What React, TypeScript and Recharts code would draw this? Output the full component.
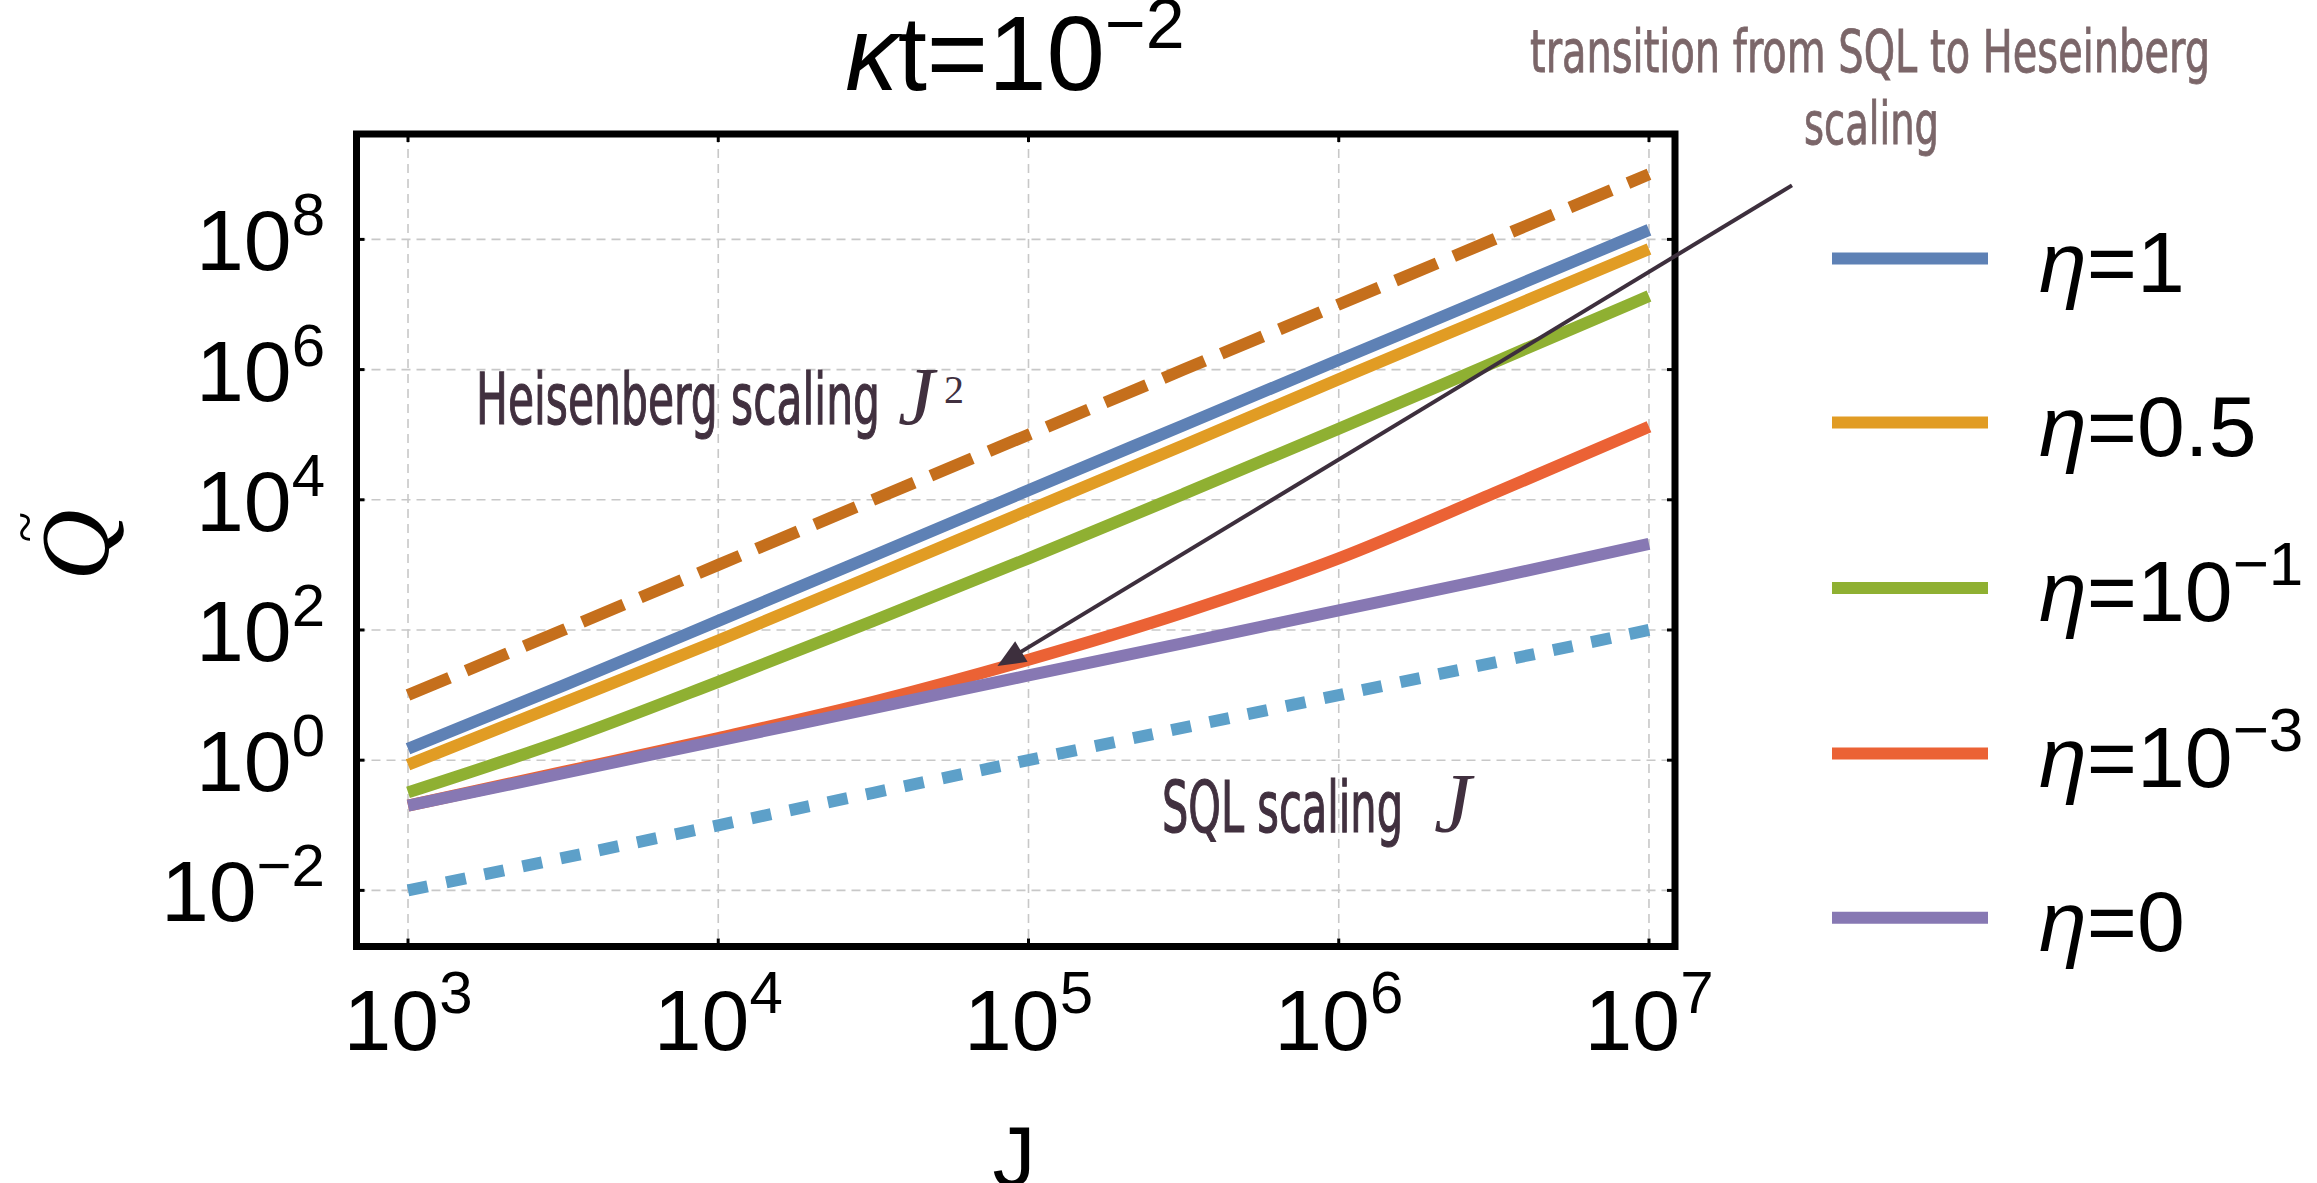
import React from "react";
import {
  CartesianGrid,
  Line,
  LineChart,
  ReferenceArea,
  ReferenceLine,
  XAxis,
  YAxis,
} from "recharts";

// J values (half decades)
const J_VALUES = [1000, 3162, 10000, 31623, 100000, 316228, 1000000, 3162278, 10000000];
const HEISENBERG = [10, 100, 1e3, 1e4, 1e5, 1e6, 1e7, 1e8, 1e9];
const SQL = [0.01, 0.0316, 0.1, 0.316, 1, 3.16, 10, 31.6, 100];
const ETA_1 = [1.5, 14, 138, 1380, 1.4e4, 1.4e5, 1.4e6, 1.4e7, 1.4e8];
const ETA_05 = [0.85, 7.6, 69, 680, 6.9e3, 6.9e4, 7.1e5, 7.1e6, 7.1e7];
const ETA_01 = [0.32, 2.0, 16, 138, 1260, 1.23e4, 1.23e5, 1.29e6, 1.35e7];
const ETA_1E3 = [0.2, 0.66, 2.19, 7.9, 35, 186, 1260, 1.26e4, 1.32e5];
const ETA_0 = [0.2, 0.63, 2, 6.3, 20, 63, 200, 630, 2100];

const X_TICKS = [1e3, 1e4, 1e5, 1e6, 1e7];
const Y_TICKS = [1e-2, 1, 1e2, 1e4, 1e6, 1e8];
const X_DOMAIN = [682.3, 1.213e7];
const Y_DOMAIN = [0.001374, 4.159e9];

// arrow "transition from SQL to Heseinberg scaling"
const ARROW = [
  { x: 2.89e7, y: 6.76e8 },
  { x: 7.94e4, y: 27.9 },
];

const SERIES = [
  { key: "eta1", values: ETA_1, color: "#5e81b5", label: "1", sup: "" },
  { key: "eta05", values: ETA_05, color: "#e19c24", label: "0.5", sup: "" },
  { key: "eta01", values: ETA_01, color: "#8fb032", label: "10", sup: "\u22121" },
  { key: "eta1e3", values: ETA_1E3, color: "#eb6235", label: "10", sup: "\u22123" },
  { key: "eta0", values: ETA_0, color: "#8778b3", label: "0", sup: "" },
];

const data = J_VALUES.map((J, i) => {
  const row: Record<string, number> = { J, heis: HEISENBERG[i], sql: SQL[i] };
  SERIES.forEach((s) => (row[s.key] = s.values[i]));
  return row;
});

const W = 2317;
const H = 1183;
const PLOT = { left: 356.5, top: 134, right: 1675, bottom: 946.5 };
const SANS = "'Liberation Sans', Arial, Helvetica, sans-serif";
const SERIF = "'Liberation Serif', 'Times New Roman', serif";
const COND = "'DejaVu Sans Condensed', 'Liberation Sans Narrow', 'DejaVu Sans', sans-serif";

const expText = (v: number) => {
  const e = Math.round(Math.log10(v));
  return e < 0 ? `\u2212${-e}` : `${e}`;
};

const XTick = (props: any) => {
  const { x, payload } = props;
  return (
    <g>
      <line x1={x} x2={x} y1={PLOT.bottom} y2={PLOT.bottom - 8} stroke="#000" strokeWidth={3} />
      <line x1={x} x2={x} y1={PLOT.top} y2={PLOT.top + 8} stroke="#000" strokeWidth={3} />
      <text x={x} y={1050} textAnchor="middle" fontSize={86} fill="#000" fontFamily={SANS}>
        10
        <tspan dy={-37} fontSize={60}>
          {expText(payload.value)}
        </tspan>
      </text>
    </g>
  );
};

const YTick = (props: any) => {
  const { y, payload } = props;
  return (
    <g>
      <line x1={PLOT.left} x2={PLOT.left + 8} y1={y} y2={y} stroke="#000" strokeWidth={3} />
      <line x1={PLOT.right} x2={PLOT.right - 8} y1={y} y2={y} stroke="#000" strokeWidth={3} />
      <text x={325} y={y + 31} textAnchor="end" fontSize={86} fill="#000" fontFamily={SANS}>
        10
        <tspan dy={-35} fontSize={60}>
          {expText(payload.value)}
        </tspan>
      </text>
    </g>
  );
};

const ArrowShape = (p: any) => {
  const { x1, y1, x2, y2 } = p;
  const len = Math.hypot(x2 - x1, y2 - y1);
  const ux = (x2 - x1) / len;
  const uy = (y2 - y1) / len;
  const head = 28;
  const half = 12;
  const bx = x2 - ux * head;
  const by = y2 - uy * head;
  return (
    <g>
      <line x1={x1} y1={y1} x2={bx + ux * 3} y2={by + uy * 3} stroke="#3d2f3d" strokeWidth={4} />
      <polygon
        points={`${x2},${y2} ${bx - uy * half},${by + ux * half} ${bx + uy * half},${by - ux * half}`}
        fill="#3d2f3d"
      />
    </g>
  );
};

const LEGEND_Y = [258.6, 422.6, 588, 753.6, 917.7];

export default function App() {
  return (
    <div style={{ position: "fixed", left: 0, top: 0, width: W, height: H, background: "#fff" }}>
      <LineChart
        width={W}
        height={H}
        data={data}
        margin={{ top: PLOT.top, right: W - PLOT.right, left: PLOT.left - 200, bottom: H - PLOT.bottom - 100 }}
        style={{ fontFamily: SANS }}
      >
        <CartesianGrid stroke="#c8c8c8" strokeDasharray="9 6" strokeWidth={1.6} />
        <XAxis
          dataKey="J"
          type="number"
          scale="log"
          domain={X_DOMAIN}
          allowDataOverflow
          ticks={X_TICKS}
          interval={0}
          tick={<XTick />}
          tickLine={false}
          axisLine={false}
          height={100}
        />
        <YAxis
          type="number"
          scale="log"
          domain={Y_DOMAIN}
          allowDataOverflow
          ticks={Y_TICKS}
          interval={0}
          tick={<YTick />}
          tickLine={false}
          axisLine={false}
          width={200}
        />
        <Line
          dataKey="heis"
          stroke="#c56f1c"
          strokeWidth={12}
          strokeDasharray="45 18"
          dot={false}
          activeDot={false}
          isAnimationActive={false}
        />
        <Line
          dataKey="sql"
          stroke="#5da0c9"
          strokeWidth={12}
          strokeDasharray="20 19"
          dot={false}
          activeDot={false}
          isAnimationActive={false}
        />
        {SERIES.map((s) => (
          <Line
            key={s.key}
            dataKey={s.key}
            type="monotone"
            stroke={s.color}
            strokeWidth={12}
            dot={false}
            activeDot={false}
            isAnimationActive={false}
          />
        ))}
        <ReferenceLine segment={ARROW} ifOverflow="visible" shape={ArrowShape} />
        <ReferenceArea
          x1={X_DOMAIN[0]}
          x2={X_DOMAIN[1]}
          y1={Y_DOMAIN[0]}
          y2={Y_DOMAIN[1]}
          fill="none"
          fillOpacity={0}
          stroke="#000"
          strokeWidth={7}
          ifOverflow="visible"
        />
      </LineChart>
      <svg
        width={W}
        height={H}
        style={{ position: "absolute", left: 0, top: 0, pointerEvents: "none" }}
      >
        {/* title */}
        <text x={1015} y={90} textAnchor="middle" fontSize={105} fontFamily={SANS} fill="#000">
          <tspan fontStyle="italic">κ</tspan>t=10
          <tspan dy={-42} fontSize={70}>
            {"\u22122"}
          </tspan>
        </text>
        {/* axis labels */}
        <g transform="translate(108,545) rotate(-90)">
          <text x={0} y={0} textAnchor="middle" fontSize={98} fontStyle="italic" fontFamily={SERIF} fill="#000">
            Q
          </text>
          <text x={18} y={-64} textAnchor="middle" fontSize={56} fontFamily={SERIF} fill="#000">
            ~
          </text>
        </g>
        <text x={1014} y={1186} textAnchor="middle" fontSize={86} fontFamily={SANS} fill="#000">
          J
        </text>
        {/* annotations */}
        <text
          x={476}
          y={424}
          fontSize={71}
          fontFamily={COND}
          fill="#41303f"
          stroke="#41303f"
          strokeWidth={1.2}
          textLength={404}
          lengthAdjust="spacingAndGlyphs"
        >
          Heisenberg scaling
        </text>
        <text x={898} y={424} fontSize={82} fontFamily={SERIF} fontStyle="italic" fill="#41303f">
          J
        </text>
        <text x={944} y={403} fontSize={40} fontFamily={SERIF} fill="#41303f">
          2
        </text>
        <text
          x={1162}
          y={832}
          fontSize={72}
          fontFamily={COND}
          fill="#41303f"
          stroke="#41303f"
          strokeWidth={1.2}
          textLength={241}
          lengthAdjust="spacingAndGlyphs"
        >
          SQL scaling
        </text>
        <text x={1434} y={832} fontSize={84} fontFamily={SERIF} fontStyle="italic" fill="#41303f">
          J
        </text>
        <text
          x={1530}
          y={72}
          fontSize={58}
          fontFamily={COND}
          fill="#7b6669"
          stroke="#7b6669"
          strokeWidth={0.8}
          textLength={680}
          lengthAdjust="spacingAndGlyphs"
        >
          transition from SQL to Heseinberg
        </text>
        <text
          x={1804}
          y={144}
          fontSize={58}
          fontFamily={COND}
          fill="#7b6669"
          stroke="#7b6669"
          strokeWidth={0.8}
          textLength={135}
          lengthAdjust="spacingAndGlyphs"
        >
          scaling
        </text>
        {/* legend */}
        {SERIES.map((s, i) => (
          <g key={s.key}>
            <line x1={1832} x2={1988} y1={LEGEND_Y[i]} y2={LEGEND_Y[i]} stroke={s.color} strokeWidth={12} />
            <text x={2039} y={LEGEND_Y[i] + 33} fontSize={86} fontFamily={SANS} fill="#000">
              <tspan fontStyle="italic">η</tspan>={s.label}
              {s.sup && (
                <tspan dy={-36} fontSize={62}>
                  {s.sup}
                </tspan>
              )}
            </text>
          </g>
        ))}
      </svg>
    </div>
  );
}
